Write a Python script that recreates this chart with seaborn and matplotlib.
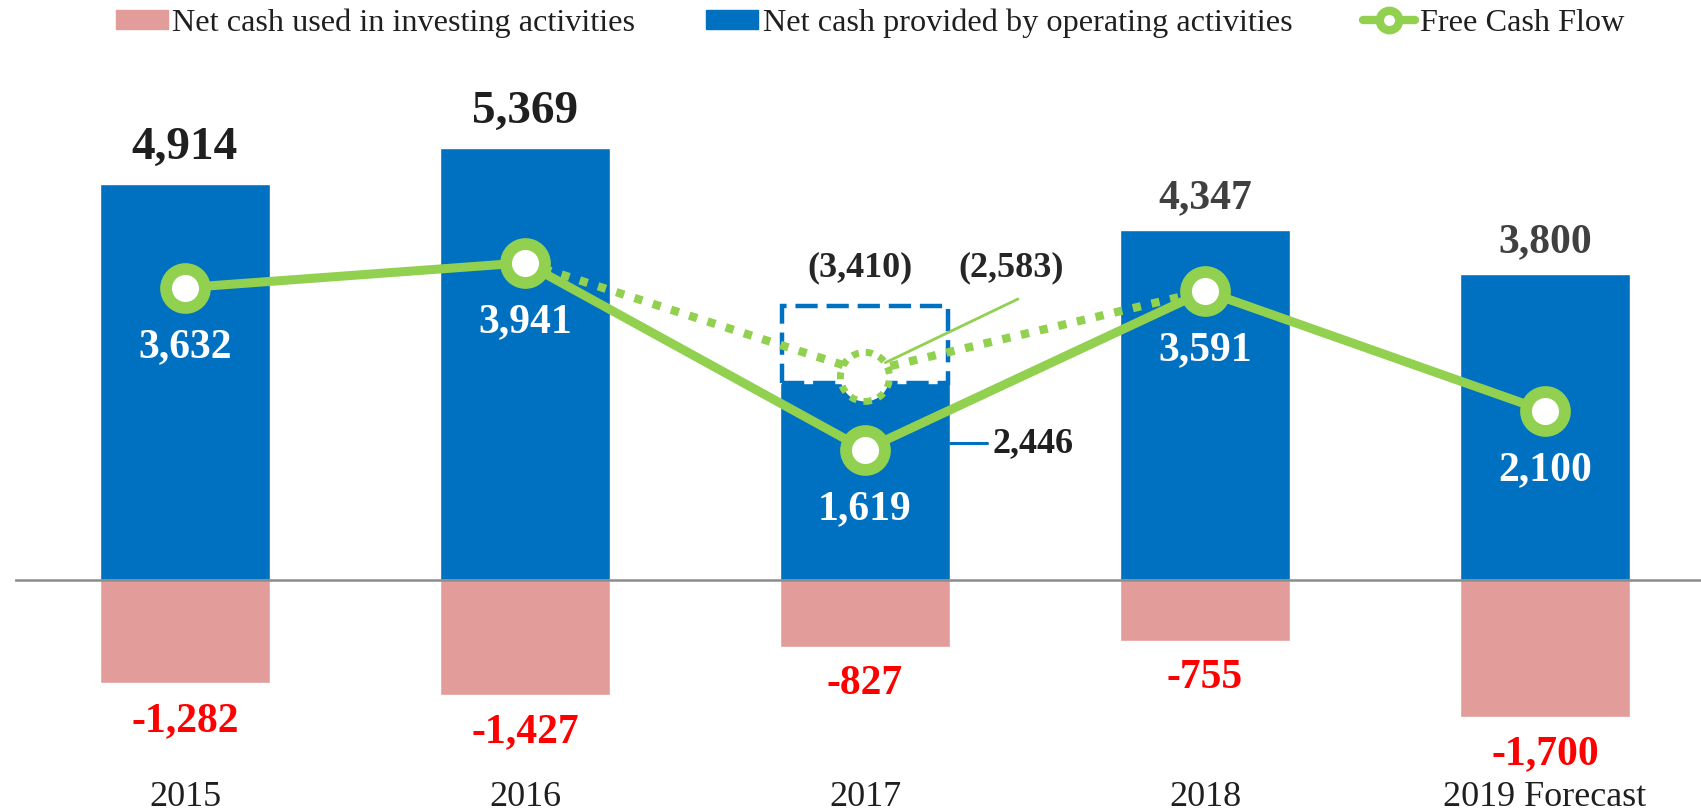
import matplotlib.pyplot as plt
import matplotlib.patches as mpatches
from matplotlib.lines import Line2D
import numpy as np
import seaborn as sns

years = ['2015', '2016', '2017', '2018', '2019 Forecast']
operating = [4914, 5369, 2446, 4347, 3800]
investing = [-1282, -1427, -827, -755, -1700]
free_cash = [3632, 3941, 1619, 3591, 2100]

# 2017 adjusted figures (dashed box / dotted path)
adj_years = [1, 2, 3]
adj_free_cash = [3941, 2583, 3591]
adj_operating_2017 = 3410

blue = '#0070C0'
pink = '#E29C9A'
green = '#92D050'

sns.set_theme(style='white')
plt.rcParams['font.family'] = ['Liberation Serif', 'DejaVu Serif']

fig = plt.figure(figsize=(17.01, 8.11), dpi=100)
ax = fig.add_axes([15 / 1701, 41 / 811, 1 - 15 / 1701, 1 - 41 / 811 - 50 / 811])

# BAR CHART
sns.barplot(x=years, y=operating, color=blue, saturation=1, width=0.5, ax=ax, zorder=2)
sns.barplot(x=years, y=investing, color=pink, saturation=1, width=0.5, ax=ax, zorder=2)
ax.axhline(0, color='#8c8c8c', lw=1.8, zorder=3)

# dashed box for 2017 adjusted operating cash
ax.add_patch(mpatches.Rectangle((2 - 0.245, operating[2]), 0.49, adj_operating_2017 - operating[2],
                                fill=False, edgecolor=blue, lw=3.2, linestyle=(0, (5, 2)), zorder=3))

# dotted free cash flow path
sns.lineplot(x=adj_years, y=adj_free_cash, color=green, lw=6, linestyle=(0, (1, 1.3)),
             ax=ax, zorder=4)
ax.scatter([2], [adj_free_cash[1] - 60], s=1250, facecolor='white', edgecolor=green,
           linewidths=5, linestyles=(0, (1, 1)), zorder=5)
ax.plot([2.06, 2.45], [2700, 3491], color=green, lw=2, zorder=5)

# free cash flow line
sns.lineplot(x=np.arange(len(years)), y=free_cash, color=green, lw=6.5, marker='o',
             markersize=28, markerfacecolor='white', markeredgecolor=green,
             markeredgewidth=8.5, ax=ax, zorder=6)

# labels
for i, v in enumerate(operating):
    if i == 2:
        continue
    big = i < 2
    ax.annotate(f'{v:,}', (i, v), xytext=(0, 26 if big else 23), textcoords='offset points',
                ha='center', va='center', fontsize=34 if big else 30, fontweight='bold',
                color='#1f1f1f' if big else '#404040')
for i, v in enumerate(investing):
    ax.annotate(f'{v:,}', (i, v), xytext=(0, -27), textcoords='offset points',
                ha='center', va='center', fontsize=30, fontweight='bold', color='#FF0000')
for i, v in enumerate(free_cash):
    ax.annotate(f'{v:,}', (i, v), xytext=(0, -43), textcoords='offset points',
                ha='center', va='center', fontsize=30, fontweight='bold', color='white', zorder=7)

ax.plot([2.25, 2.36], [1700, 1700], color=blue, lw=2.2)
ax.text(2.375, 1700, f'{operating[2]:,}', ha='left', va='center', fontsize=26,
        fontweight='bold', color='#1f1f1f')
ax.text(1.985, 3876, f'({adj_operating_2017:,})', ha='center', va='center', fontsize=26,
        fontweight='bold', color='#262626')
ax.text(2.43, 3876, f'({adj_free_cash[1]:,})', ha='center', va='center', fontsize=26,
        fontweight='bold', color='#262626')

ax.set_xlim(-0.5, 4.459)
ax.set_ylim(-2360, 6584)
ax.set_yticks([])
ax.set_xlabel('')
ax.set_ylabel('')
ax.tick_params(axis='x', length=0, labelsize=26, pad=8, labelcolor='#1f1f1f')
for s in ax.spines.values():
    s.set_visible(False)

handles = [
    mpatches.Patch(color=pink, label='Net cash used in investing activities'),
    mpatches.Patch(color=blue, label='Net cash provided by operating activities'),
    Line2D([], [], color=green, lw=6, marker='o', markersize=14, markerfacecolor='white',
           markeredgecolor=green, markeredgewidth=6, label='Free Cash Flow'),
]
fig.legend(handles=handles, loc='center', bbox_to_anchor=(0.5115, 1 - 23 / 811), ncol=3,
           frameon=False, fontsize=23.2, handlelength=1.6, handleheight=0.56,
           handletextpad=0.15, columnspacing=2.2, borderpad=0, labelcolor='#1f1f1f')

plt.savefig('out.png', dpi=100)
plt.close()
